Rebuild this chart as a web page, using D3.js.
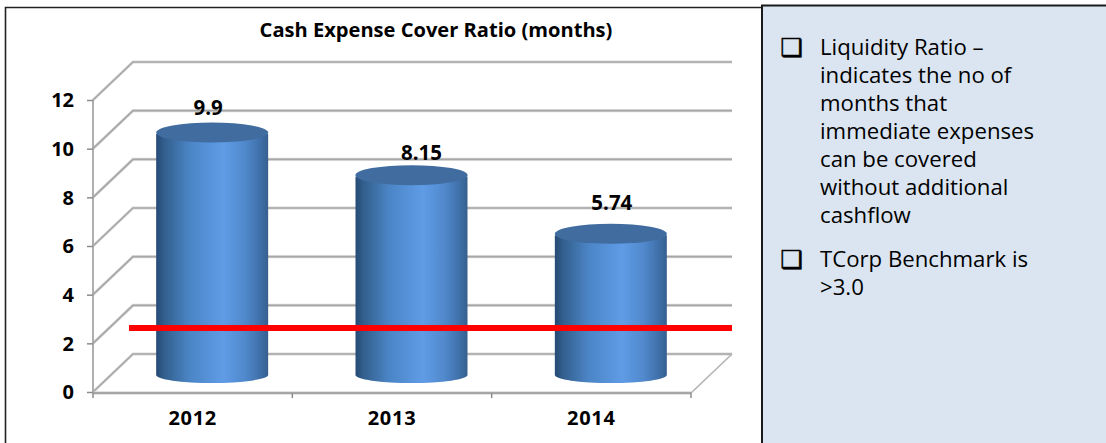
<!DOCTYPE html>
<html>
<head>
<meta charset="utf-8">
<script src="https://cdnjs.cloudflare.com/ajax/libs/d3/7.8.5/d3.min.js"></script>
<style>
  html, body { margin: 0; padding: 0; background: #fff; overflow: hidden; }
  text { font-family: "Open Sans", "Noto Sans", sans-serif; fill: #000; }
  .bold { font-weight: 700; }
  .axis path { display: none; }
  .axis line { stroke: #8c8c8c; stroke-width: 1.5; }
</style>
</head>
<body>
<div id="chart"></div>
<script>
// values
const years = ["2012", "2013", "2014"];
const ratio = [9.9, 8.15, 5.74];
const ratioLabels = ["9.9", "8.15", "5.74"];
const yTicks = [0, 2, 4, 6, 8, 10, 12];
const benchmarkLine = 2.63; // red line height, read on the front axis

const title = "Cash Expense Cover Ratio (months)";
const bullets = [
  ["Liquidity Ratio \u2013", "indicates the no of", "months that", "immediate expenses", "can be covered", "without additional", "cashflow"],
  ["TCorp Benchmark is", ">3.0"]
];

const width = 1106, height = 443;
const margin = {left: 93, right: 415, top: 100, bottom: 51};
const depth = {x: 40, y: 38};       // shift from front axis to back wall
const barDepth = {x: 19.5, y: 17};  // where the cylinders stand on the floor
const labelNudge = [[-4, 1], [10, 3], [1, -5]]; // labels were moved by hand in the original

const svg = d3.select("#chart").append("svg")
    .attr("width", width)
    .attr("height", height)
    .style("display", "block");

const xScale = d3.scaleBand()
    .domain(years)
    .range([margin.left, width - margin.right]);

const yScale = d3.scaleLinear()
    .domain([0, 12])
    .range([height - margin.bottom, margin.top]);

// right hand panel and frame
svg.append("rect").attr("x", 762).attr("y", 5).attr("width", 344).attr("height", 438)
    .attr("fill", "#dbe5f1");
svg.append("path").attr("d", "M5.5,443V7.5H762").attr("fill", "none").attr("stroke", "#222").attr("stroke-width", 1.6);
svg.append("path").attr("d", "M762,443V5.5H1106").attr("fill", "none").attr("stroke", "#1a1a1a").attr("stroke-width", 2);

svg.append("text")
    .attr("class", "bold")
    .attr("x", 436)
    .attr("y", 37)
    .attr("text-anchor", "middle")
    .style("font-size", "20.1px")
    .text(title);

// back wall, side wall
const grid = svg.append("g").attr("fill", "none");
const x0 = xScale.range()[0], x1 = xScale.range()[1];
const wallRight = x1 + depth.x + 1;

yTicks.forEach(t => {
    const y = yScale(t);
    grid.append("path")
        .attr("d", `M${x0},${y} L${x0 + depth.x},${y - depth.y} H${wallRight}`)
        .attr("stroke", "#d9d9d9")
        .attr("stroke-width", 3);
    grid.append("path")
        .attr("d", `M${x0},${y} L${x0 + depth.x},${y - depth.y} H${wallRight}`)
        .attr("stroke", "#a6a6a6")
        .attr("stroke-width", 1.6);
});

// floor
grid.append("path")
    .attr("d", `M${x1},${yScale(0) + 1} L${wallRight},${yScale(0) - depth.y}`)
    .attr("stroke", "#b3b3b3")
    .attr("stroke-width", 1.6);
grid.append("path")
    .attr("d", `M${x0},${yScale(0) + 1} H${x1}`)
    .attr("stroke", "#d9d9d9")
    .attr("stroke-width", 3.5);
grid.append("path")
    .attr("d", `M${x0},${yScale(0) + 1} H${x1}`)
    .attr("stroke", "#a6a6a6")
    .attr("stroke-width", 1.8);
grid.append("path")
    .attr("d", `M${x0},${yScale(12)} V${yScale(0) + 1}`)
    .attr("stroke", "#a6a6a6")
    .attr("stroke-width", 1.8);

// axes
const yAxisG = svg.append("g")
    .attr("class", "axis bold")
    .attr("transform", `translate(${x0},0)`)
    .call(d3.axisLeft(yScale).tickValues(yTicks).tickSize(6).tickPadding(13));
yAxisG.selectAll("text").style("font-size", "20px").attr("dy", "0.34em");

const xAxisG = svg.append("g")
    .attr("class", "axis bold")
    .attr("transform", `translate(0,${yScale(0) + 1})`)
    .call(d3.axisBottom(xScale).tickSize(0).tickPadding(18));
xAxisG.selectAll("text").style("font-size", "20px").style("letter-spacing", "0.7px");

// tick marks sit between the categories on the x axis
xAxisG.selectAll(".sep")
    .data(years.map(d => xScale(d)).concat([x1]))
    .join("line")
    .attr("class", "sep")
    .attr("x1", d => d)
    .attr("x2", d => d)
    .attr("y1", 0)
    .attr("y2", 5);

// cylinders
const defs = svg.append("defs");
const grad = defs.append("linearGradient").attr("id", "cyl");
[[0, "#274a75"], [0.08, "#33608f"], [0.3, "#4b85c6"], [0.6, "#5f9ce6"], [0.8, "#5088cb"], [0.93, "#3f6fa8"], [1, "#36608f"]]
    .forEach(s => grad.append("stop").attr("offset", s[0]).attr("stop-color", s[1]));
defs.append("filter").attr("id", "soft").append("feGaussianBlur").attr("stdDeviation", 0.5);

const rx = 56, ry = 10;
const cx = i => xScale(years[i]) + xScale.bandwidth() / 2 + barDepth.x;
const bars = svg.append("g").attr("filter", "url(#soft)");

bars.selectAll(".bar")
    .data(ratio)
    .join("path")
    .attr("class", "bar")
    .attr("fill", "url(#cyl)")
    .attr("d", (d, i) => {
        const top = yScale(d) - barDepth.y, base = yScale(0) - barDepth.y;
        return `M${cx(i) - rx},${top} V${base} A${rx},${ry - 2} 0 0 0 ${cx(i) + rx},${base} V${top} Z`;
    });

bars.selectAll(".cap")
    .data(ratio)
    .join("ellipse")
    .attr("class", "cap")
    .attr("cx", (d, i) => cx(i))
    .attr("cy", d => yScale(d) - barDepth.y - 1.5)
    .attr("rx", rx)
    .attr("ry", ry)
    .attr("fill", "#416c9f");

// red line
svg.append("line")
    .attr("x1", 129)
    .attr("x2", wallRight)
    .attr("y1", yScale(benchmarkLine))
    .attr("y2", yScale(benchmarkLine))
    .attr("stroke", "#ff0000")
    .attr("stroke-width", 6);

// value labels
svg.selectAll(".value")
    .data(ratio)
    .join("text")
    .attr("class", "value bold")
    .attr("x", (d, i) => cx(i) + labelNudge[i][0])
    .attr("y", (d, i) => yScale(d) - barDepth.y - 20 + labelNudge[i][1])
    .attr("text-anchor", "middle")
    .style("font-size", "20.5px")
    .text((d, i) => ratioLabels[i]);

// bullet text
const lineH = 28;
let lineY = 55;
bullets.forEach(group => {
    svg.append("text")
        .attr("x", 780.5)
        .attr("y", lineY + 1)
        .style("font-family", "'DejaVu Sans'")
        .style("font-size", "25px")
        .style("stroke", "#000")
        .style("stroke-width", 0.5)
        .text("\u2751");
    group.forEach(line => {
        svg.append("text")
            .attr("x", 820)
            .attr("y", lineY)
            .style("font-size", "22.2px")
            .text(line);
        lineY += lineH;
    });
    lineY += 16;
});
</script>
</body>
</html>
